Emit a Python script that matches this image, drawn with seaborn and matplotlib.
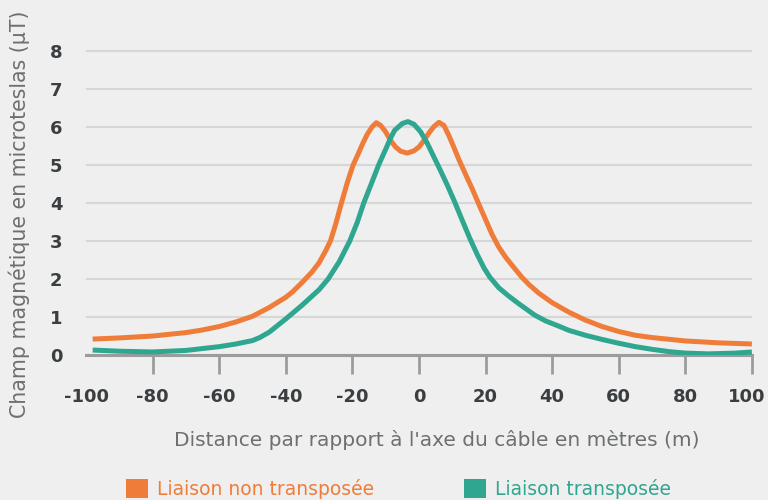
import matplotlib.pyplot as plt
import matplotlib.transforms as mtransforms
import seaborn as sns
import pandas as pd
from matplotlib.patches import Patch

# Données
dist_non = [-98, -90, -80, -70, -65, -60, -55, -50, -45, -40, -38, -35, -32, -30, -28,
            -26.6, -25, -23.3, -21.5, -19.8, -18.5, -17, -15.5, -14, -12.8, -11.5,
            -10, -8.5, -7, -5.5, -3.5, -1.5, 0, 1.5, 3, 4.5, 6, 7.5, 9, 10.5, 12, 14,
            16, 18, 20, 22, 24, 26, 28, 30.8, 33, 36, 40, 45, 50, 55, 60, 65, 70, 80,
            90, 100]
champ_non = [0.42, 0.45, 0.50, 0.59, 0.66, 0.75, 0.87, 1.02, 1.25, 1.52, 1.66, 1.92,
             2.20, 2.43, 2.75, 3.00, 3.45, 4.00, 4.55, 5.00, 5.25, 5.55, 5.82, 6.02,
             6.12, 6.05, 5.88, 5.65, 5.48, 5.37, 5.32, 5.38, 5.48, 5.65, 5.85, 6.02,
             6.13, 6.05, 5.78, 5.47, 5.15, 4.76, 4.38, 3.97, 3.57, 3.17, 2.84, 2.58,
             2.36, 2.06, 1.86, 1.63, 1.38, 1.13, 0.92, 0.75, 0.62, 0.52, 0.46, 0.37,
             0.32, 0.29]

dist_tr = [-98, -90, -80, -70, -66, -60, -55, -50, -47.8, -45, -40, -35, -30, -27.3,
           -24, -20.8, -18.5, -16.6, -14, -12, -10, -8.5, -7.3, -5, -3.3, -1.5, 0.5,
           2.5, 4.2, 6.25, 8.5, 10.8, 13, 15.3, 17.5, 19.5, 21.3, 24, 27, 30, 34.8,
           38, 42.3, 45, 50, 55, 60, 65, 70, 75, 80, 87, 95, 100]
champ_tr = [0.13, 0.10, 0.08, 0.12, 0.16, 0.22, 0.29, 0.38, 0.46, 0.60, 0.95, 1.32,
            1.72, 2.00, 2.45, 3.00, 3.50, 4.00, 4.58, 5.03, 5.42, 5.72, 5.92, 6.10,
            6.15, 6.08, 5.88, 5.58, 5.27, 4.90, 4.48, 4.02, 3.55, 3.07, 2.65, 2.30,
            2.05, 1.77, 1.55, 1.35, 1.05, 0.90, 0.75, 0.65, 0.52, 0.41, 0.31, 0.22,
            0.15, 0.09, 0.05, 0.03, 0.05, 0.08]

series = ["Liaison non transposée", "Liaison transposée"]
couleurs = ["#F07C3A", "#2FA68F"]
x_ticks = [-100, -80, -60, -40, -20, 0, 20, 40, 60, 80, 100]
y_ticks = [0, 1, 2, 3, 4, 5, 6, 7, 8]

fond = "#EEEFEE"
sns.set_style("white")
plt.rcParams['font.family'] = ['DejaVu Sans']

fig = plt.figure(figsize=(7.68, 5.0), dpi=100, facecolor=fond)
ax = fig.add_axes([0.112, 0.29, 0.867, 0.63], facecolor=fond)

df_non = pd.DataFrame({"x": dist_non, "y": champ_non})
df_tr = pd.DataFrame({"x": dist_tr, "y": champ_tr})
sns.lineplot(data=df_non, x="x", y="y", ax=ax, color=couleurs[0], linewidth=3.6,
             zorder=3, solid_joinstyle="round", solid_capstyle="butt")
sns.lineplot(data=df_tr, x="x", y="y", ax=ax, color=couleurs[1], linewidth=3.6,
             zorder=4, solid_joinstyle="round", solid_capstyle="butt")

ax.set_xlim(-100, 100)
ax.set_ylim(0, 8.3)
ax.set_xticks(x_ticks)
ax.set_yticks(y_ticks)
ax.set_xticklabels([str(t) for t in x_ticks])
ax.yaxis.grid(True, color="#D6D7D6", linewidth=1.5, zorder=0)
ax.set_axisbelow(True)

for s in ["top", "right", "left"]:
    ax.spines[s].set_visible(False)
ax.spines["bottom"].set_color("#9C9C9C")
ax.spines["bottom"].set_linewidth(2.2)
ax.spines["bottom"].set_zorder(2)

ax.tick_params(axis="x", bottom=True, direction="out", length=14, width=2,
               color="#9C9C9C", pad=10, labelsize=13, labelcolor="#3B3E41")
ax.tick_params(axis="y", left=False, length=0, pad=17, labelsize=13,
               labelcolor="#3B3E41")
for lab in ax.get_xticklabels() + ax.get_yticklabels():
    lab.set_fontweight("bold")

# pas de trait sous -100
ax.xaxis.get_major_ticks()[0].tick1line.set_visible(False)

# décaler légèrement le dernier libellé pour qu'il reste dans l'image
dernier = ax.get_xticklabels()[-1]
dernier.set_transform(dernier.get_transform() +
                      mtransforms.ScaledTranslation(-5 / 100, 0, fig.dpi_scale_trans))

ax.set_xlabel("Distance par rapport à l'axe du câble en mètres (m)", fontsize=14.5,
              color="#6E6F70")
ax.xaxis.set_label_coords(0.527, -0.238)
ax.set_ylabel("Champ magnétique en microteslas (µT)", fontsize=14.8,
              color="#6E6F70")
ax.yaxis.set_label_coords(-0.084, 0.446)

handles = [Patch(facecolor=c, edgecolor="none") for c in couleurs]
leg = fig.legend(handles, series, loc="upper left", bbox_to_anchor=(0.164, 0.042),
                 ncol=2, frameon=False, fontsize=13.5, handlelength=1.17,
                 handleheight=1.17, handletextpad=0.48, columnspacing=4.8,
                 borderpad=0, borderaxespad=0)
for t, c in zip(leg.get_texts(), couleurs):
    t.set_color(c)

plt.savefig("out.png", dpi=100, facecolor=fond)
